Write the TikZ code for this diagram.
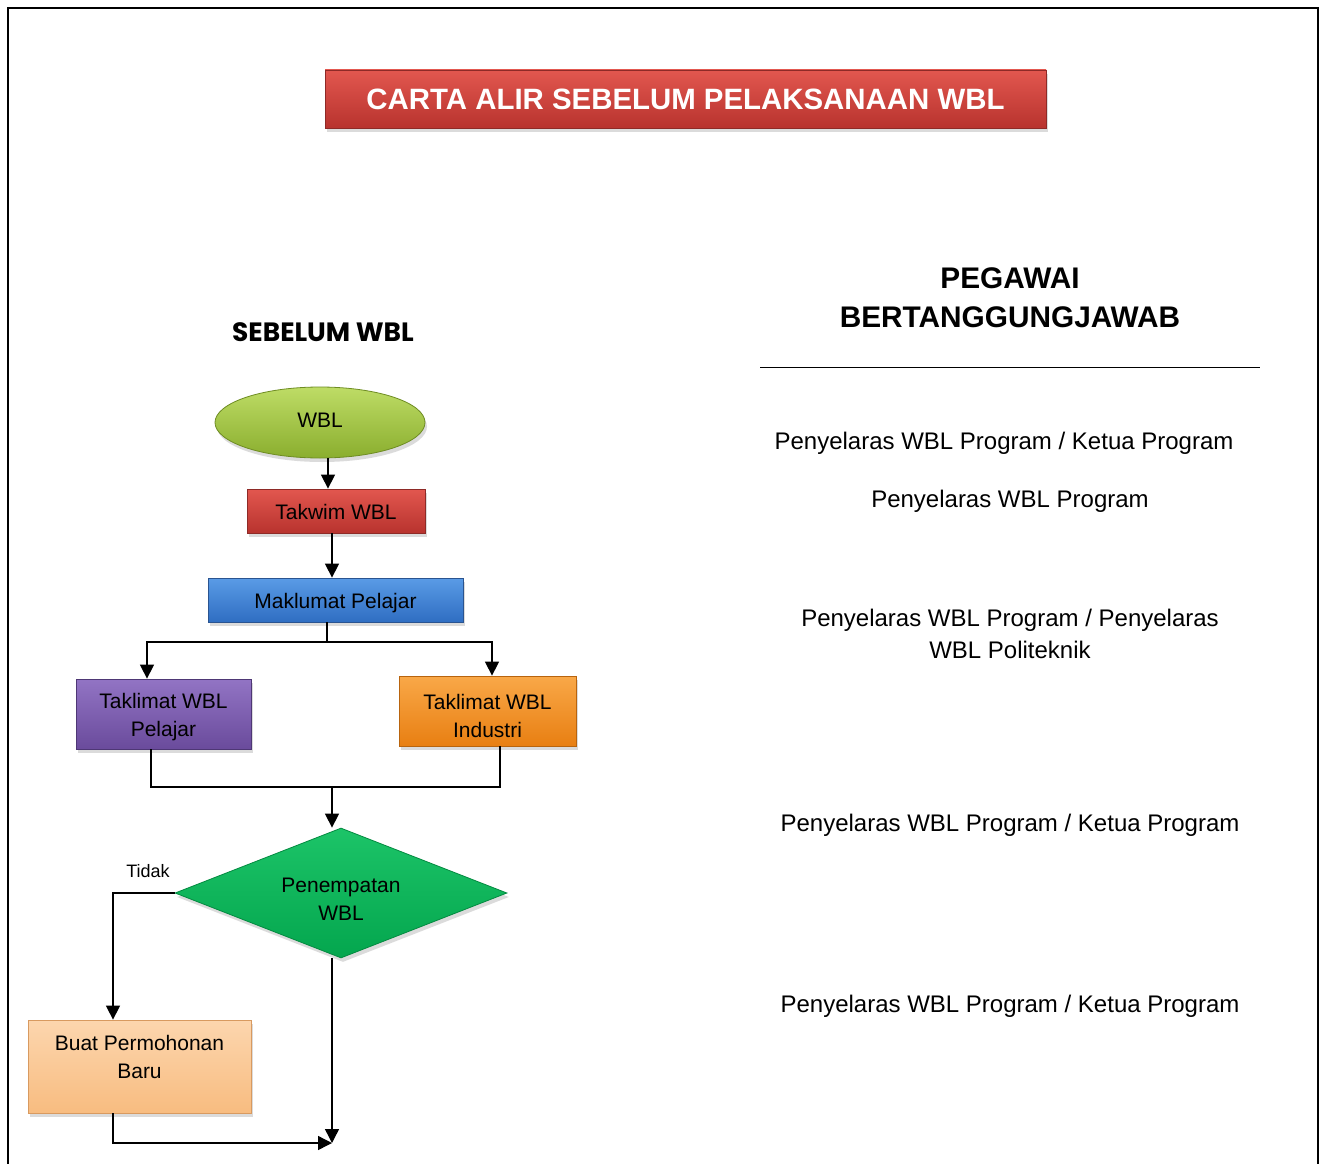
\documentclass[tikz,border=0pt]{standalone}
\usepackage{fontspec}
\setmainfont{Liberation Sans}
\newfontfamily\gothic{Poppins}
\usetikzlibrary{shapes.geometric,arrows.meta,shadows}
\definecolor{redT}{HTML}{E2574F}
\definecolor{redB}{HTML}{B8332E}
\definecolor{redD}{HTML}{8E2A27}
\definecolor{bluT}{HTML}{5A9BE6}
\definecolor{bluB}{HTML}{2F6EC2}
\definecolor{bluD}{HTML}{2A5490}
\definecolor{purT}{HTML}{9274C4}
\definecolor{purB}{HTML}{6A4B9C}
\definecolor{purD}{HTML}{4E3775}
\definecolor{orT}{HTML}{F9A848}
\definecolor{orB}{HTML}{E87F12}
\definecolor{orD}{HTML}{B8640E}
\definecolor{peT}{HTML}{FCD6AE}
\definecolor{peB}{HTML}{F8BC80}
\definecolor{peD}{HTML}{D89A60}
\definecolor{liT}{HTML}{BEDC66}
\definecolor{liB}{HTML}{8AAE2E}
\definecolor{liD}{HTML}{6E8C22}
\definecolor{grT}{HTML}{1CC468}
\definecolor{grB}{HTML}{04A64E}
\definecolor{grD}{HTML}{038A40}
\tikzset{
  shbox/.style n args={3}{draw=#3, line width=0.8pt, top color=#1, bottom color=#2,
    drop shadow={opacity=0.28, shadow xshift=2pt, shadow yshift=-4pt},
    align=center, inner sep=0pt, font=\fontsize{21}{28}\selectfont},
  lbl/.style={align=center, inner sep=0pt, font=\fontsize{21}{28}\selectfont},
  arr/.style={line width=1.4pt, -{Triangle[width=14pt,length=14pt]}},
  ln/.style={line width=1.4pt},
  righttext/.style={font=\fontsize{24}{32}\selectfont, align=center},
}
\begin{document}
\begin{tikzpicture}[x=1pt,y=-1pt]
\useasboundingbox (0,0) rectangle (1320,1164);
\fill[white] (0,0) rectangle (1320,1164);
% frame
\draw[line width=2.5pt] (8,1166) -- (8,8) -- (1318,8) -- (1318,1166);
% title
\node[shbox={redT}{redB}{redD}, minimum width=721pt, minimum height=58pt, text=white,
  font=\bfseries\fontsize{29.4}{32}\selectfont] (title) at (685.5,99) {CARTA ALIR SEBELUM PELAKSANAAN WBL};
% left heading
\node[font=\gothic\bfseries\fontsize{26.5}{30}\selectfont] (hleft) at (323,332) {SEBELUM WBL};
% right heading
\node[font=\bfseries\fontsize{29.8}{39}\selectfont, align=center] (hright) at (1010,298) {PEGAWAI\\BERTANGGUNGJAWAB};
\coordinate (l1) at (760,367);
\coordinate (l2) at (1260,367);
\draw[line width=1pt] (l1) -- (l2);
% right texts
\node[righttext] (r1) at (1004,443) {Penyelaras WBL Program / Ketua Program};
\node[righttext] (r2) at (1010,501) {Penyelaras WBL Program};
\node[righttext] (r3) at (1010,634) {Penyelaras WBL Program / Penyelaras\\WBL Politeknik};
\node[righttext] (r4) at (1010,825) {Penyelaras WBL Program / Ketua Program};
\node[righttext] (r5) at (1010,1006) {Penyelaras WBL Program / Ketua Program};
% flow nodes
\node[shbox={liT}{liB}{liD}, ellipse, minimum width=210pt, minimum height=71pt,
  label={[lbl,yshift=2.5pt]center:WBL}] (wbl) at (320,422.5) {};
\node[shbox={redT}{redB}{redD}, minimum width=178pt, minimum height=44pt,
  label={[lbl,yshift=-1pt]center:Takwim WBL}] (takwim) at (336,511) {};
\node[shbox={bluT}{bluB}{bluD}, minimum width=255pt, minimum height=44pt,
  label={[lbl,yshift=-3pt]center:Maklumat Pelajar}] (mak) at (335.5,600) {};
\node[shbox={purT}{purB}{purD}, minimum width=175pt, minimum height=70pt,
  label={[lbl,yshift=-3.5pt]center:Taklimat WBL\\Pelajar}] (pel) at (163.5,714) {};
\node[shbox={orT}{orB}{orD}, minimum width=177pt, minimum height=70pt,
  label={[lbl,yshift=-4.5pt]center:Taklimat WBL\\Industri}] (ind) at (487.5,711) {};
\node[shbox={grT}{grB}{grD}, diamond, aspect=2.55, minimum width=332pt, minimum height=130pt,
  label={[lbl,yshift=-6pt]center:Penempatan\\WBL}] (dec) at (341,893) {};
\node[shbox={peT}{peB}{peD}, minimum width=223pt, minimum height=93pt,
  label={[lbl,yshift=10pt]center:Buat Permohonan\\Baru}] (buat) at (139.5,1066.5) {};
\node[font=\fontsize{18}{22}\selectfont] (tidak) at (148,871) {Tidak};
% connectors
\coordinate (j1) at (327,642);
\coordinate (j2) at (332,787);
\coordinate (endp) at (332,1143);
\draw[arr] ([xshift=8pt]wbl.south) -- ([xshift=-8pt]takwim.north);
\draw[arr] ([xshift=-4pt]takwim.south) -- ([xshift=-3.5pt]mak.north);
\draw[ln] ([xshift=-8.5pt]mak.south) -- (j1);
\draw[arr] (j1) -| ([xshift=-16.5pt]pel.north);
\draw[arr] (j1) -| ([xshift=4.5pt]ind.north);
\draw[ln] ([xshift=-12.5pt]pel.south) |- (j2) -| ([xshift=12.5pt]ind.south);
\draw[arr] (j2) -- (j2 |- dec.north);
\draw[arr] (dec.west) -| ([xshift=-26.5pt]buat.north);
\draw[arr] (j2 |- dec.south) -- (endp);
\draw[arr] ([xshift=-26.5pt]buat.south) |- (endp);
\end{tikzpicture}
\end{document}
